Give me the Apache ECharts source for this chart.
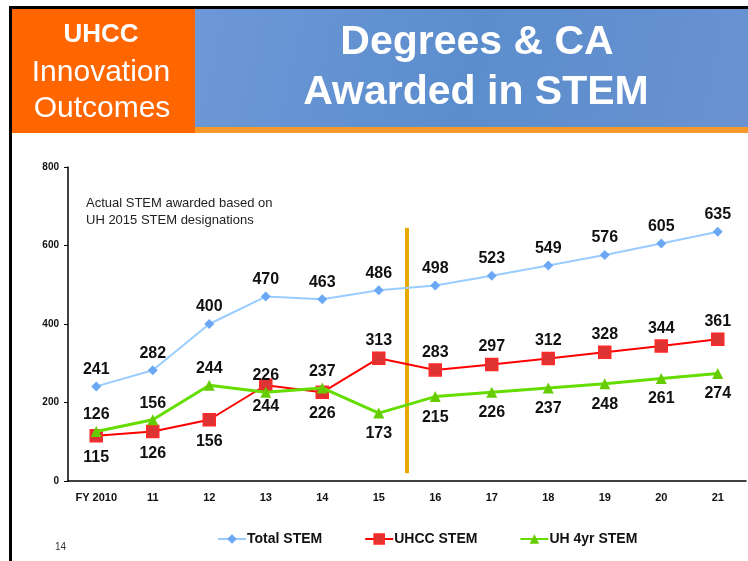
<!DOCTYPE html>
<html>
<head>
<meta charset="utf-8">
<script src="https://cdn.jsdelivr.net/npm/echarts@6/dist/echarts.min.js"></script>
<style>
  html, body { margin: 0; padding: 0; background: #fff; }
  #chart { width: 748px; height: 561px; }
</style>
</head>
<body>
<div id="chart"></div>
<script>
// data
const years = ['FY 2010', '11', '12', '13', '14', '15', '16', '17', '18', '19', '20', '21'];
const totalStem = [241, 282, 400, 470, 463, 486, 498, 523, 549, 576, 605, 635];
const uhccStem = [115, 126, 156, 244, 226, 313, 283, 297, 312, 328, 344, 361];
const uh4yrStem = [126, 156, 244, 226, 237, 173, 215, 226, 237, 248, 261, 274];
// divider between FY15 and FY16 (x on 0..12 scale, y range)
const divider = [[6, 20], [6, 645]];

// from FY15 on the UHCC labels go on top, UH 4yr below
const switchAt = 5;

const labelFont = { fontFamily: 'Liberation Sans, Arial', fontWeight: 'bold', fontSize: 16, color: '#111' };

const withSide = (arr, before, after) => arr.map((v, i) => {
    const pos = i < switchAt ? before : after;
    return {
        value: v,
        label: { position: pos, distance: pos === 'top' ? 3 : 7 }
    };
});

const chart = echarts.init(document.getElementById('chart'));

chart.setOption({
    animation: false,
    textStyle: { fontFamily: 'Liberation Sans, Arial' },
    grid: { left: 68, right: 2, top: 167, bottom: 80 },
    xAxis: [{
        type: 'category',
        data: years,
        axisLine: { lineStyle: { color: '#000', width: 1.5 } },
        axisTick: { length: 3, lineStyle: { color: '#bbb' } },
        axisLabel: { color: '#111', fontWeight: 'bold', fontSize: 11, margin: 11 }
    }, {
        type: 'value',
        min: 0,
        max: 12,
        show: false
    }],
    yAxis: {
        type: 'value',
        min: 0,
        max: 800,
        interval: 200,
        axisLine: { show: true, lineStyle: { color: '#000', width: 1.5 } },
        axisTick: { show: true, length: 4, lineStyle: { color: '#000' } },
        axisLabel: { color: '#111', fontWeight: 'bold', fontSize: 10, margin: 9 },
        splitLine: { show: false }
    },
    legend: {
        bottom: 10,
        left: 212,
        itemGap: 42,
        itemWidth: 28,
        itemHeight: 12,
        textStyle: { fontWeight: 'bold', fontSize: 14, color: '#111', padding: [0, 0, 0, -4] },
        data: ['Total STEM', 'UHCC STEM', 'UH 4yr STEM']
    },
    series: [{
        name: 'Total STEM',
        type: 'line',
        data: totalStem,
        symbol: 'diamond',
        symbolSize: 10,
        lineStyle: { color: '#99ccff', width: 2 },
        itemStyle: { color: '#6aa8f5' },
        label: { show: true, position: 'top', distance: 4, ...labelFont },
        z: 3
    }, {
        name: 'UHCC STEM',
        type: 'line',
        data: withSide(uhccStem, 'bottom', 'top'),
        symbol: 'rect',
        symbolSize: 12,
        lineStyle: { color: '#ff0000', width: 2 },
        itemStyle: { color: '#dd3333', borderColor: '#ff2a2a', borderWidth: 1.5 },
        label: { show: true, ...labelFont },
        z: 4
    }, {
        name: 'UH 4yr STEM',
        type: 'line',
        data: withSide(uh4yrStem, 'top', 'bottom'),
        symbol: 'triangle',
        symbolSize: 11,
        lineStyle: { color: '#66dd00', width: 3 },
        itemStyle: { color: '#66cc00' },
        label: { show: true, ...labelFont },
        z: 5
    }, {
        name: 'divider',
        type: 'line',
        xAxisIndex: 1,
        data: divider,
        symbol: 'none',
        lineStyle: { color: '#e8a900', width: 4 },
        silent: true,
        z: 2
    }],
    graphic: [
        // slide frame
        { type: 'rect', shape: { x: 9, y: 6, width: 739, height: 3 }, style: { fill: '#000' } },
        { type: 'rect', shape: { x: 9, y: 6, width: 3, height: 555 }, style: { fill: '#000' } },
        // header boxes
        { type: 'rect', shape: { x: 12, y: 9, width: 183, height: 124 }, style: { fill: '#ff6600' } },
        {
            type: 'rect',
            shape: { x: 195, y: 9, width: 553, height: 118 },
            style: {
                fill: new echarts.graphic.LinearGradient(0, 0, 1, 1, [
                    { offset: 0, color: '#6e98d8' },
                    { offset: 0.5, color: '#5b8dcc' },
                    { offset: 1, color: '#6a92d2' }
                ])
            }
        },
        { type: 'rect', shape: { x: 195, y: 127, width: 553, height: 6 }, style: { fill: '#f5992a' } },
        { type: 'text', x: 101, y: 35, style: { text: 'UHCC', fill: '#fff', font: 'bold 26px Liberation Sans, Arial', align: 'center', verticalAlign: 'middle' } },
        { type: 'text', x: 101, y: 73, style: { text: 'Innovation', fill: '#fff', font: '30px Liberation Sans, Arial', align: 'center', verticalAlign: 'middle' } },
        { type: 'text', x: 102, y: 109, style: { text: 'Outcomes', fill: '#fff', font: '30px Liberation Sans, Arial', align: 'center', verticalAlign: 'middle' } },
        { type: 'text', x: 477, y: 43, style: { text: 'Degrees & CA', fill: '#fff', font: 'bold 41px Liberation Sans, Arial', align: 'center', verticalAlign: 'middle' } },
        { type: 'text', x: 476, y: 93, style: { text: 'Awarded in STEM', fill: '#fff', font: 'bold 41px Liberation Sans, Arial', align: 'center', verticalAlign: 'middle' } },
        // note and page number
        { type: 'text', x: 86, y: 195, style: { text: 'Actual STEM awarded based on\nUH 2015 STEM designations', fill: '#222', font: '13px Liberation Sans, Arial', lineHeight: 17 } },
        { type: 'text', x: 55, y: 542, style: { text: '14', fill: '#333', font: '10px Liberation Sans, Arial' } }
    ]
});
</script>
</body>
</html>
